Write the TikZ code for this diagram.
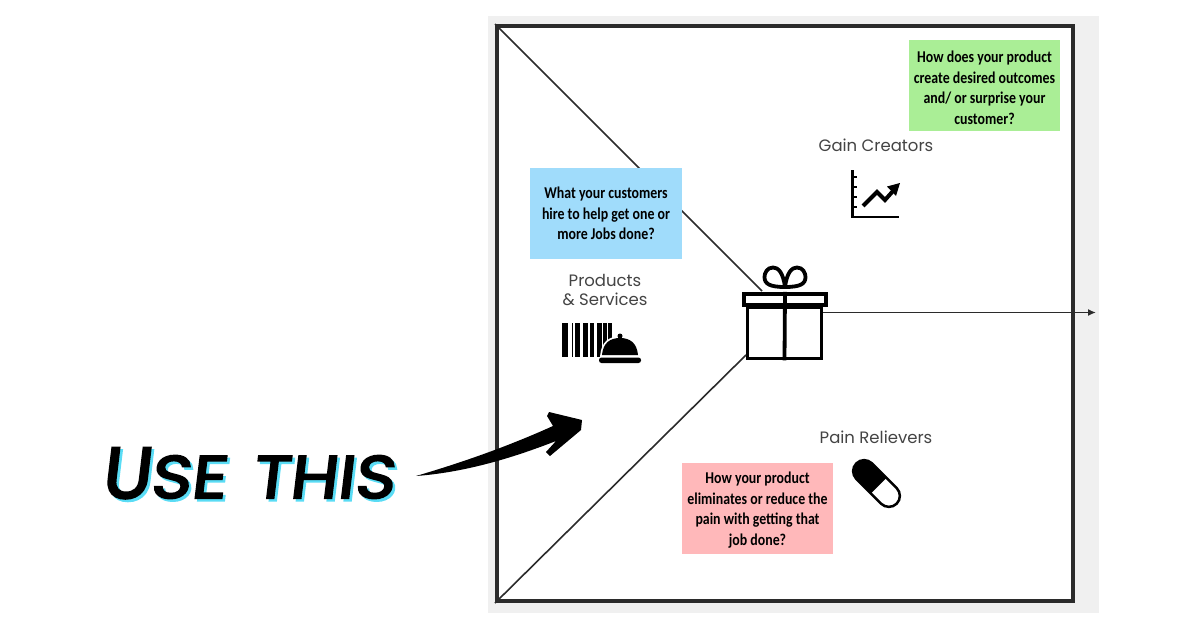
\documentclass[tikz,border=0pt]{standalone}
\usepackage{fontspec}
\usepackage{xcolor}
\setmainfont{Carlito}
\newfontfamily\notefont[FakeStretch=0.84]{Carlito}
\newfontfamily\labelfont{Poppins}
\newfontfamily\brushfont[FakeBold=3.5,FakeSlant=0.12]{Poppins}
\newfontfamily\brushwide[FakeBold=3.5,FakeSlant=0.12,FakeStretch=1.15]{Poppins}
\usetikzlibrary{arrows.meta,calc}
\definecolor{panelgray}{HTML}{F0F0F0}
\definecolor{framedark}{HTML}{2B2B2B}
\definecolor{noteblue}{HTML}{A0DCFB}
\definecolor{notegreen}{HTML}{AAEE96}
\definecolor{notepink}{HTML}{FFB8BA}
\definecolor{labelgray}{HTML}{444444}
\definecolor{shadowcyan}{HTML}{5ADCF5}
\newcommand{\usethis}{{\brushfont\fontsize{72}{72}\selectfont U}{\brushwide\fontsize{60}{60}\selectfont SE\hspace{26pt}THIS}}
\newcommand{\notetop}{\rule{0pt}{16pt}}
\tikzset{
  note/.style={
    minimum width=151pt,
    minimum height=91pt,
    inner sep=0pt,
    align=center,
    font=\fontsize{16.5}{20.5}\notefont\bfseries},
  lbl/.style={
    inner sep=0pt,
    align=center,
    text=labelgray,
    font=\fontsize{16.5}{19}\labelfont},
  icon/.style={
    line width=3pt,
    black},
  giftpart/.style={
    draw=black,
    fill=white,
    line width=3.8pt,
    inner sep=0pt},
  brush/.style={
    inner sep=0pt,
    anchor=base west}
  }
\begin{document}
\begin{tikzpicture}[x=1pt,y=-1pt]
      \useasboundingbox (0,0) rectangle (1200,630);
      \fill[panelgray] (488,16) rectangle (1099,613);
      % frame and the lines of the canvas
      \node[draw=framedark,fill=white,line width=4pt,inner sep=0pt,
        minimum width=576pt,minimum height=575pt] (frame) at (785,313.5) {};
      \coordinate (lidhit) at (762,291);
      \coordinate (sidehit) at (746,355);
      \coordinate (arrowend) at (1096,312.5);
      \node[giftpart,minimum width=74pt,minimum height=51pt] (giftbox) at (784.5,333) {};
      \path[draw=framedark,line width=1.6pt]
      (frame.north west) -- (lidhit)
      (frame.south west) -- (sidehit);
      \draw[framedark,line width=1.6pt,-{Latex[length=8pt,width=7pt]}] (giftbox.east |- arrowend) -- (arrowend);
      % gift
      \draw[icon,line width=3.8pt] (785,287) .. controls (783,272) and (778,267.5) .. (773,267.5)
        .. controls (767,267.5) and (764.5,273) .. (764.5,277) .. controls (764.5,284) and (770,287) .. (785,287)
        .. controls (800,287) and (805.5,284) .. (805.5,277) .. controls (805.5,273) and (803,267.5) .. (797,267.5)
        .. controls (792,267.5) and (787,272) .. (785,287);
      \node[giftpart,minimum width=82.5pt,minimum height=11.5pt] (giftlid) at (785,299.5) {};
      \draw[icon,line width=3.8pt] (giftlid.north) -- (giftbox.south);
      % notes
      \node[note,fill=noteblue,minimum width=152pt] (whatnote) at (606,213.5)
        {What your customers\\hire to help get one or\\more Jobs done?};
      \node[note,fill=notegreen] (hownote) at (984.5,85.5)
        {\notetop How does your product\\create desired outcomes\\and/ or surprise your\\customer?};
      \node[note,fill=notepink] (painnote) at (757.5,508)
        {\notetop How your product\\eliminates or reduce the\\pain with getting that\\job done?};
      % labels
      \node[lbl] (products) at (605,290) {Products\\\& Services};
      \node[lbl] (gain) at (876,145.5) {Gain Creators};
      \node[lbl] (pain) at (876,437.5) {Pain Relievers};
      % barcode and bell
      \foreach \x/\w in {562.3/6,571.7/1.6,575/5,583.3/5,590/4,597.3/4.3,603.3/4,608.3/3.4}{
        \fill (\x,323) rectangle ++(\w,33.5);
      }
      \filldraw[draw=white,line width=3.5pt] (602,355) .. controls (603,343) and (610,338) .. (620,338) .. controls (630,338) and (637,343) .. (638,355) -- cycle;
      \fill (602,355) .. controls (603,343) and (610,338) .. (620,338) .. controls (630,338) and (637,343) .. (638,355) -- cycle;
      \fill (620,336) circle (2.5pt);
      \fill[rounded corners=2.5pt] (599,357.5) rectangle (641,363);
      % chart
      \draw[icon,line width=2.2pt] (852.5,170) -- (852.5,217) -- (899,217);
      \foreach \y in {176,186,196,206}{
        \fill (853,\y) rectangle ++(4,2);
      }
      \draw[icon,line width=4pt] (863,206) -- (877,192) -- (885,200) -- (893,191);
      \fill (900,183) -- (887,186.5) -- (896,196) -- cycle;
      % pill
      \begin{scope}[shift={(876.5,483.5)},rotate=-45]
        \begin{scope}
          \clip (-29,-12) rectangle (3,12);
          \fill[rounded corners=11pt] (-28.5,-11) rectangle (28.5,11);
        \end{scope}
        \draw[line width=2.5pt,rounded corners=11pt] (-28.5,-11) rectangle (28.5,11);
      \end{scope}
      % use this
      \node[brush,text=shadowcyan] (useshadow) at (103.5,500.5) {\usethis};
      \node[brush,text=black] (usetext) at (101,498) {\usethis};
      \fill (416,476) .. controls (450,466) and (500,450) .. (553,426)
        -- (547,416) -- (549,412) -- (582,420) -- (581,430) -- (550,456) -- (546,452) -- (556,441)
        .. controls (520,455) and (470,472) .. cycle;
    \end{tikzpicture}
\end{document}
